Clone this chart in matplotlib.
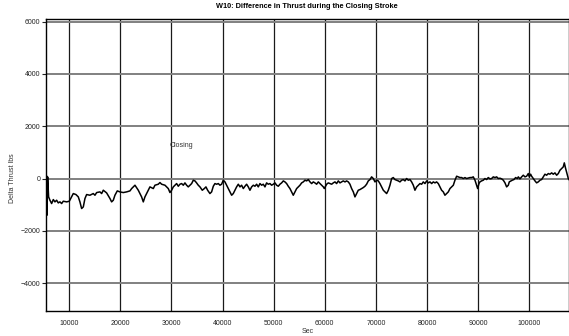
import matplotlib
matplotlib.use('Agg')
import matplotlib.pyplot as plt

plt.rcParams['font.family'] = ['Liberation Sans', 'DejaVu Sans']

# values
sec = [5570, 5640, 5770, 5960, 6220, 6550, 6880, 7200, 7530, 7850, 8180, 8510, 8830, 9490,
       10010, 10460, 10790, 11310, 11770, 12090, 12420, 12750, 13070, 13400, 14050, 14700,
       15030, 15360, 16010, 16340, 16660, 17310, 17970, 18290, 18620, 18940, 19400, 19920,
       20570, 21230, 21880,
       22210, 22860, 23510, 24160, 24490, 24810, 25140, 25470, 25790, 26450, 26770, 27420,
       27750, 28080, 28730, 29380, 29710, 30030, 30360, 30690, 31010, 31340, 31660, 31990,
       32320, 32640, 32970, 33290, 33620, 33950, 34270, 34600, 34920, 35250, 35580, 36030,
       36430, 36750, 37080, 37530, 37860, 38190, 38510,
       38840, 39170, 39490, 39820, 40140, 40470, 40800, 41120, 41450, 41780, 42100, 42430,
       42750, 43080, 43410, 43730, 44060, 44380, 44710, 45040, 45360, 45690, 46020, 46340,
       46670, 46990, 47320, 47650, 47970, 48300, 48620, 48950, 49280, 49600, 49930, 50260,
       50580, 50910, 51230, 51560, 51890, 52210, 52540, 52860, 53190, 53520, 53840, 54170,
       54500, 54820, 55150,
       55480, 55800, 56130, 56450, 56780, 57110, 57430, 57760, 58080, 58410, 58740, 59060,
       59390, 59720, 59910, 60170, 60370, 60690, 61020, 61350, 61670, 62000, 62320, 62650,
       62980, 63300, 63630, 63960, 64280, 64610, 64930, 65260, 65590, 65910, 66240, 66560,
       66890, 67220, 67540, 67870, 68190, 68520, 68850, 69170, 69500, 69830, 70150, 70480,
       70800, 71130, 71460, 71780,
       72110, 72440, 72760, 73090, 73410, 73740, 74070, 74390, 74720, 75040, 75370, 75700,
       76020, 76350, 76680, 77000, 77330, 77650, 77980, 78310, 78630, 78960, 79280, 79610,
       79940, 80260, 80590, 80920, 81240, 81570, 81890, 82220, 82550, 82870, 83200, 83520,
       83850, 84180, 84500, 84830, 85160, 85480, 85810, 86130, 86460, 86790, 87110, 87440,
       87760, 88420,
       88740, 89070, 89400, 89720, 89920, 90180, 90370, 90700, 91030, 91350, 91680, 92000,
       92330, 92660, 92980, 93310, 93640, 93960, 94290, 94610, 94940, 95270, 95590, 95920,
       96110, 96440, 96700, 97030, 97350, 97680, 97880, 98200, 98530, 98850, 99180, 99510,
       99830, 100030, 100290, 100480, 100810, 101140, 101460, 101790, 102120, 102440, 102770,
       103090, 103420, 103750, 104070, 104400, 104720, 105050, 105380, 105700, 106030, 106360,
       106680, 106880, 107140, 107400, 107660, 107790]

delta = [88, -1403, 62, -702, -830, -957, -804, -893, -830, -932, -893, -957, -868, -893,
         -868, -702, -575, -613, -702, -893, -1148, -1085, -766, -613, -639, -575,
         -639, -537, -511, -575, -447, -549, -766, -893, -830, -639, -473, -511,
         -537, -511, -473,
         -384, -256, -448, -703, -894, -703, -575, -448, -320, -384, -256, -218,
         -154, -218, -256, -384, -537, -448, -320, -256, -193, -295, -218, -193,
         -256, -167, -256, -320, -256, -193, -65, -91, -167, -256, -320, -448,
         -384, -320, -448, -575, -511, -295, -193,
         -218, -193, -256, -218, -65, -129, -256, -384, -511, -639, -575, -448,
         -320, -218, -320, -256, -384, -295, -218, -320, -448, -320, -256, -295,
         -218, -320, -193, -256, -218, -320, -167, -218, -193, -256, -218, -167,
         -256, -295, -218, -167, -91, -129, -193, -295, -384, -511, -639, -511,
         -384, -320, -256,
         -167, -129, -65, -91, -40, -129, -193, -129, -167, -218, -129, -193,
         -256, -320, -384, -295, -218, -167, -193, -218, -167, -129, -193, -91,
         -167, -129, -91, -129, -91, -129, -218, -384, -511, -703, -575, -448,
         -422, -384, -346, -295, -218, -91, -40, 63, 0, -129, -65, -91,
         -193, -320, -448, -511,
         -575, -448, -256, 0, 37, -40, -65, -91, -129, -65, -40, -91,
         0, -65, -40, -129, -256, -448, -320, -256, -193, -218, -129, -193,
         -91, -167, -129, -193, -129, -167, -129, -193, -320, -448, -511, -639,
         -575, -511, -384, -320, -256, -65, 88, 63, 37, 37, 0, 37,
         0, 37,
         37, 63, -64, -256, -383, -192, -128, -90, -64, 0, -39, 37,
         -13, 0, 63, 37, 63, 0, 12, -13, -64, -166, -320, -256,
         -128, -90, -64, -39, 37, 0, 63, -13, 63, 127, 63, 89,
         190, 63, 165, 89, 0, -90, -166, -128, -64, -39, 63,
         165, 127, 190, 165, 216, 165, 216, 127, 190, 318, 382,
         446, 599, 382, 190, 0, -39]

x_ticks = [10000, 20000, 30000, 40000, 50000, 60000, 70000, 80000, 90000, 100000]
y_ticks = [-4000, -2000, 0, 2000, 4000, 6000]

fig = plt.figure(figsize=(5.69, 3.36), dpi=100)
ax = fig.add_axes([46 / 569, 1 - 310.7 / 336, 522.5 / 569, 292.2 / 336])

ax.set_xlim(5450, 107700)
ax.set_ylim(-5055, 6120)

for x in x_ticks:
    ax.axvline(x, color='#1a1a1a', lw=0.9, zorder=1)
for y in y_ticks:
    ax.axhline(y, color='#808080', lw=1.4, zorder=1)

ax.plot(sec, delta, color='black', lw=1.1, zorder=3)

ax.set_xticks(x_ticks)
ax.set_yticks(y_ticks)
ax.tick_params(axis='x', length=0, labelsize=5, pad=7, colors='#222222')
ax.tick_params(axis='y', length=3, width=0.8, labelsize=5, pad=1, colors='#222222')

for s in ax.spines.values():
    s.set_color('black')
    s.set_linewidth(1.0)

ax.text(32000, 1250, 'Closing', fontsize=5, ha='center', va='center', color='#333333')

fig.text(307 / 569, 1 - 6 / 336, 'W10: Difference in Thrust during the Closing Stroke',
         fontsize=5.3, fontweight='bold', ha='center', va='center')
fig.text(308 / 569, 1 - 331.5 / 336, 'Sec', fontsize=5, ha='center', va='center', color='#333333')
fig.text(13 / 569, 1 - 178 / 336, 'Delta Thrust lbs', fontsize=5, rotation=90,
         ha='center', va='center', color='#333333')

fig.savefig('out.png', dpi=100)
